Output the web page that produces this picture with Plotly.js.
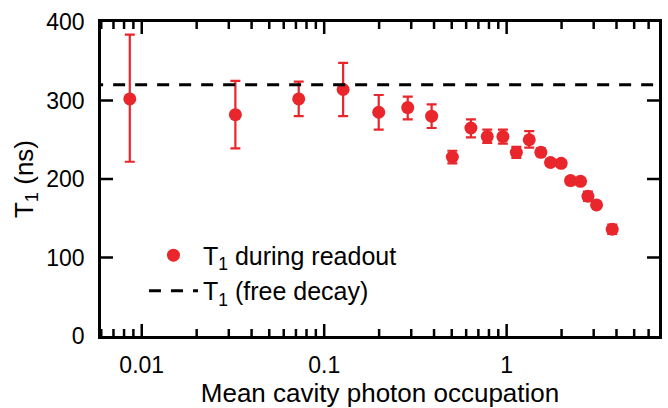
<!DOCTYPE html>
<html>
<head>
<meta charset="utf-8">
<script src="https://cdn.plot.ly/plotly-3.0.1.min.js"></script>
<style>html,body{margin:0;padding:0;background:#fff;}#chart{width:668px;height:408px;}</style>
</head>
<body>
<div id="chart"></div>
<script>
// Data
const occupation = [0.0086, 0.0326, 0.0725, 0.127, 0.199, 0.287, 0.388, 0.504, 0.637, 0.783, 0.954, 1.13, 1.33, 1.54, 1.74, 1.99, 2.24, 2.54, 2.79, 3.11, 3.79];
const t1Readout = [302, 282, 302, 314, 285, 291, 280, 228, 265, 254, 254, 234, 250, 234, 221, 220, 198, 197, 178, 167, 136];
const errPlus  = [82, 43, 22, 34, 22, 14, 15, 8, 11, 9, 9, 7, 11, 5, 4, 4, 4, 4, 6, 3, 6];
const errMinus = [80, 43, 22, 34, 22, 15, 15, 8, 12, 8, 9, 7, 10, 5, 4, 4, 4, 4, 6, 3, 6];
const freeDecayX = [0.004, 10];
const freeDecayT1 = [320, 320];
// Tick values and labels
const xTickVals = [0.01, 0.1, 1];
const xTickText = ['0.01', '0.1', '1'];
const xMinorTickVals = [0.006, 0.007, 0.008, 0.009,
                        0.02, 0.03, 0.04, 0.05, 0.06, 0.07, 0.08, 0.09,
                        0.2, 0.3, 0.4, 0.5, 0.6, 0.7, 0.8, 0.9,
                        2, 3, 4, 5, 6];
const yTickVals = [0, 100, 200, 300, 400];

const red = '#e8262b';
const FONT = 'Liberation Sans, Arial, Helvetica, sans-serif';

const traces = [
  {
    type: 'scatter', mode: 'markers',
    x: occupation, y: t1Readout,
    name: 'T<sub>1</sub> during readout',
    marker: {color: red, size: 13},
    error_y: {type: 'data', symmetric: false, array: errPlus, arrayminus: errMinus,
              color: red, thickness: 2.2, width: 5}
  },
  {
    type: 'scatter', mode: 'lines',
    x: freeDecayX, y: freeDecayT1,
    name: 'T<sub>1</sub> (free decay)',
    line: {color: '#000', width: 3, dash: '12px,10px'}
  }
];

// Inside tick marks on all four sides, placed through the axes' own scales
const tickLine = {color: '#000', width: 2.5};
const shapes = [];
function xTick(v, len) {
  shapes.push({type: 'line', xref: 'x', yref: 'paper', ysizemode: 'pixel', yanchor: 0,
               x0: v, x1: v, y0: 0, y1: len, line: tickLine, layer: 'above'});
  shapes.push({type: 'line', xref: 'x', yref: 'paper', ysizemode: 'pixel', yanchor: 1,
               x0: v, x1: v, y0: 0, y1: -len, line: tickLine, layer: 'above'});
}
function yTick(v, len) {
  shapes.push({type: 'line', xref: 'paper', yref: 'y', xsizemode: 'pixel', xanchor: 0,
               x0: 0, x1: len, y0: v, y1: v, line: tickLine, layer: 'above'});
  shapes.push({type: 'line', xref: 'paper', yref: 'y', xsizemode: 'pixel', xanchor: 1,
               x0: 0, x1: -len, y0: v, y1: v, line: tickLine, layer: 'above'});
}
xTickVals.forEach(v => xTick(v, 12));
xMinorTickVals.forEach(v => xTick(v, 7));
yTickVals.slice(1, -1).forEach(v => yTick(v, 12));

const layout = {
  width: 668, height: 408,
  margin: {l: 101, r: 9, t: 22, b: 72},
  paper_bgcolor: '#fff', plot_bgcolor: '#fff',
  showlegend: true,
  legend: {
    x: 0.077, y: 0.33, xanchor: 'left', yanchor: 'top',
    bgcolor: 'rgba(0,0,0,0)', borderwidth: 0,
    font: {family: FONT, size: 25, color: '#000'},
    itemwidth: 49
  },
  shapes: shapes,
  xaxis: {
    type: 'log',
    range: [Math.log10(0.00598), Math.log10(6.84)],
    showline: true, linecolor: '#000', linewidth: 2.5, mirror: true,
    showgrid: false, zeroline: false,
    tickmode: 'array', tickvals: xTickVals, ticktext: xTickText,
    ticks: '', ticklabelstandoff: 7,
    tickfont: {family: FONT, size: 23, color: '#000'},
    title: {text: 'Mean cavity photon occupation', font: {family: FONT, size: 26, color: '#000'}, standoff: 2}
  },
  yaxis: {
    range: [0, 400],
    showline: true, linecolor: '#000', linewidth: 2.5, mirror: true,
    showgrid: false, zeroline: false,
    tickmode: 'array', tickvals: yTickVals,
    ticks: '', ticklabelstandoff: 9,
    tickfont: {family: FONT, size: 23, color: '#000'},
    title: {text: 'T<sub>1</sub> (ns)', font: {family: FONT, size: 26, color: '#000'}, standoff: 6}
  }
};

Plotly.newPlot('chart', traces, layout, {displayModeBar: false});
</script>
</body>
</html>
